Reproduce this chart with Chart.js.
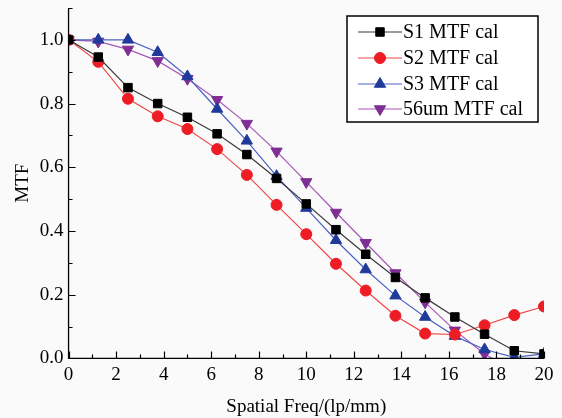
<!DOCTYPE html>
<html>
<head>
<meta charset="utf-8">
<script src="https://cdn.jsdelivr.net/npm/chart.js@4/dist/chart.umd.min.js"></script>
<style>
  html, body { margin: 0; padding: 0; background: #fafafa; }
  #wrap { width: 562px; height: 418px; }
</style>
</head>
<body>
<div id="wrap"><canvas id="mtfChart" width="562" height="418"></canvas></div>
<script>
// spatial frequency samples (lp/mm)
const freqs = [0, 1.25, 2.5, 3.75, 5, 6.25, 7.5, 8.75, 10, 11.25, 12.5, 13.75, 15, 16.25, 17.5, 18.75, 20];

const s1Mtf = [1.0, 0.946, 0.85, 0.80, 0.757, 0.705, 0.64, 0.565, 0.485, 0.404, 0.327, 0.254, 0.19, 0.13, 0.076, 0.024, 0.014];
const s2Mtf = [1.0, 0.931, 0.815, 0.76, 0.72, 0.657, 0.576, 0.482, 0.39, 0.297, 0.213, 0.134, 0.078, 0.075, 0.104, 0.136, 0.163];
const s3Mtf = [1.0, 1.0, 1.0, 0.961, 0.885, 0.783, 0.683, 0.572, 0.472, 0.371, 0.279, 0.197, 0.13, 0.07, 0.028, 0.003, 0.014];
const um56Mtf = [1.0, 0.995, 0.97, 0.934, 0.878, 0.812, 0.737, 0.65, 0.554, 0.458, 0.363, 0.268, 0.176, 0.088, 0.014, -0.04, null];

const seriesNames = ['S1 MTF cal', 'S2 MTF cal', 'S3 MTF cal', '56um MTF cal'];
const xTicks = [0, 2, 4, 6, 8, 10, 12, 14, 16, 18, 20];
const yTicks = [0, 0.2, 0.4, 0.6, 0.8, 1.0];

const serif = '"Liberation Serif", "DejaVu Serif", serif';

function toPoints(ys) {
    return freqs.map((x, i) => ({ x: x, y: ys[i] }));
}

// axis lines + inward ticks (major and minor)
const axesPlugin = {
    id: 'inwardAxes',
    afterDatasetsDraw(chart) {
        const ctx = chart.ctx;
        const xs = chart.scales.x, ys = chart.scales.y;
        const area = chart.chartArea;
        ctx.save();
        ctx.strokeStyle = '#000';
        ctx.lineWidth = 1.3;
        ctx.beginPath();
        ctx.moveTo(area.left, area.top);
        ctx.lineTo(area.left, area.bottom);
        ctx.lineTo(area.right, area.bottom);
        ctx.stroke();
        ctx.lineWidth = 1.2;
        ctx.beginPath();
        for (let v = 0; v <= 20.001; v += 1) {
            const px = Math.round(xs.getPixelForValue(v)) + 0.5;
            const len = (v % 2 === 0) ? 7 : 4;
            ctx.moveTo(px, area.bottom);
            ctx.lineTo(px, area.bottom - len);
        }
        for (let k = 0; k <= 11; k++) {
            const py = Math.round(ys.getPixelForValue(k / 10)) + 0.5;
            const len = (k % 2 === 0) ? 7 : 4;
            ctx.moveTo(area.left, py);
            ctx.lineTo(area.left + len, py);
        }
        ctx.stroke();
        ctx.restore();
    }
};

// boxed legend inside the plot, top right
const boxLegendPlugin = {
    id: 'boxLegend',
    afterDraw(chart) {
        const ctx = chart.ctx;
        const left = 347, top = 16, w = 191, h = 106;
        const rowY = [32, 58, 84, 109];
        ctx.save();
        ctx.fillStyle = '#fff';
        ctx.fillRect(left, top, w, h);
        ctx.strokeStyle = '#000';
        ctx.lineWidth = 1.5;
        ctx.strokeRect(left, top, w, h);
        chart.data.datasets.forEach((ds, i) => {
            const y = rowY[i];
            ctx.strokeStyle = ds.borderColor;
            ctx.lineWidth = 1.2;
            ctx.beginPath();
            ctx.moveTo(358, y);
            ctx.lineTo(402, y);
            ctx.stroke();
            ctx.fillStyle = ds.pointBackgroundColor;
            ctx.strokeStyle = ds.pointBorderColor;
            ctx.lineWidth = 1;
            Chart.helpers.drawPoint(ctx, {
                pointStyle: ds.pointStyle,
                radius: ds.pointRadius,
                rotation: ds.pointRotation || 0,
                borderWidth: 1
            }, 380, y);
            ctx.fillStyle = '#000';
            ctx.font = '20px ' + serif;
            ctx.textBaseline = 'middle';
            ctx.fillText(seriesNames[i], 403, y + 1);
        });
        ctx.restore();
    }
};

const bgPlugin = {
    id: 'bg',
    beforeDraw(chart) {
        const ctx = chart.ctx;
        ctx.save();
        ctx.fillStyle = '#fafafa';
        ctx.fillRect(0, 0, chart.width, chart.height);
        ctx.restore();
    }
};

function makeSet(i, ys, line, fill, style, radius, rot) {
    return {
        label: seriesNames[i],
        data: toPoints(ys),
        borderColor: line,
        borderWidth: 1.2,
        pointStyle: style,
        pointRadius: radius,
        pointRotation: rot || 0,
        pointBackgroundColor: fill,
        pointBorderColor: fill,
        pointBorderWidth: 1,
        spanGaps: false,
        tension: 0
    };
}

new Chart(document.getElementById('mtfChart'), {
    type: 'line',
    data: {
        datasets: [
            makeSet(0, s1Mtf, '#3a3a3a', '#000000', 'rect', 6),
            makeSet(1, s2Mtf, '#f04848', '#ee1c24', 'circle', 5.5),
            makeSet(2, s3Mtf, '#4a62c0', '#203a9c', 'triangle', 6.5),
            makeSet(3, um56Mtf, '#a857b8', '#7f2f94', 'triangle', 6.5, 180)
        ]
    },
    options: {
        responsive: false,
        animation: false,
        devicePixelRatio: 1,
        layout: { padding: { top: 8, right: 18, left: 3, bottom: 0 } },
        plugins: {
            legend: { display: false },
            tooltip: { enabled: false }
        },
        scales: {
            x: {
                type: 'linear',
                min: 0,
                max: 20,
                grid: { display: false, drawTicks: false },
                border: { display: false },
                afterBuildTicks: (scale) => { scale.ticks = xTicks.map(v => ({ value: v })); },
                ticks: {
                    color: '#000',
                    padding: 5,
                    maxRotation: 0,
                    font: { family: serif, size: 19 },
                    callback: (v) => String(v)
                },
                title: {
                    display: true,
                    text: 'Spatial Freq/(lp/mm)',
                    color: '#000',
                    font: { family: serif, size: 19 },
                    padding: { top: 4, bottom: 0 }
                }
            },
            y: {
                min: 0,
                max: 1.1,
                grid: { display: false, drawTicks: false },
                border: { display: false },
                afterBuildTicks: (scale) => { scale.ticks = yTicks.map(v => ({ value: v })); },
                // top tick label sits below the axis end, so no extra room is needed there
                afterFit: (scale) => { scale.paddingTop = 0; },
                ticks: {
                    color: '#000',
                    padding: 5,
                    font: { family: serif, size: 19 },
                    callback: (v) => Number(v).toFixed(1)
                },
                title: {
                    display: true,
                    text: 'MTF',
                    color: '#000',
                    font: { family: serif, size: 19 },
                    padding: { top: 9, bottom: 0 }
                }
            }
        }
    },
    plugins: [bgPlugin, axesPlugin, boxLegendPlugin]
});
</script>
</body>
</html>
